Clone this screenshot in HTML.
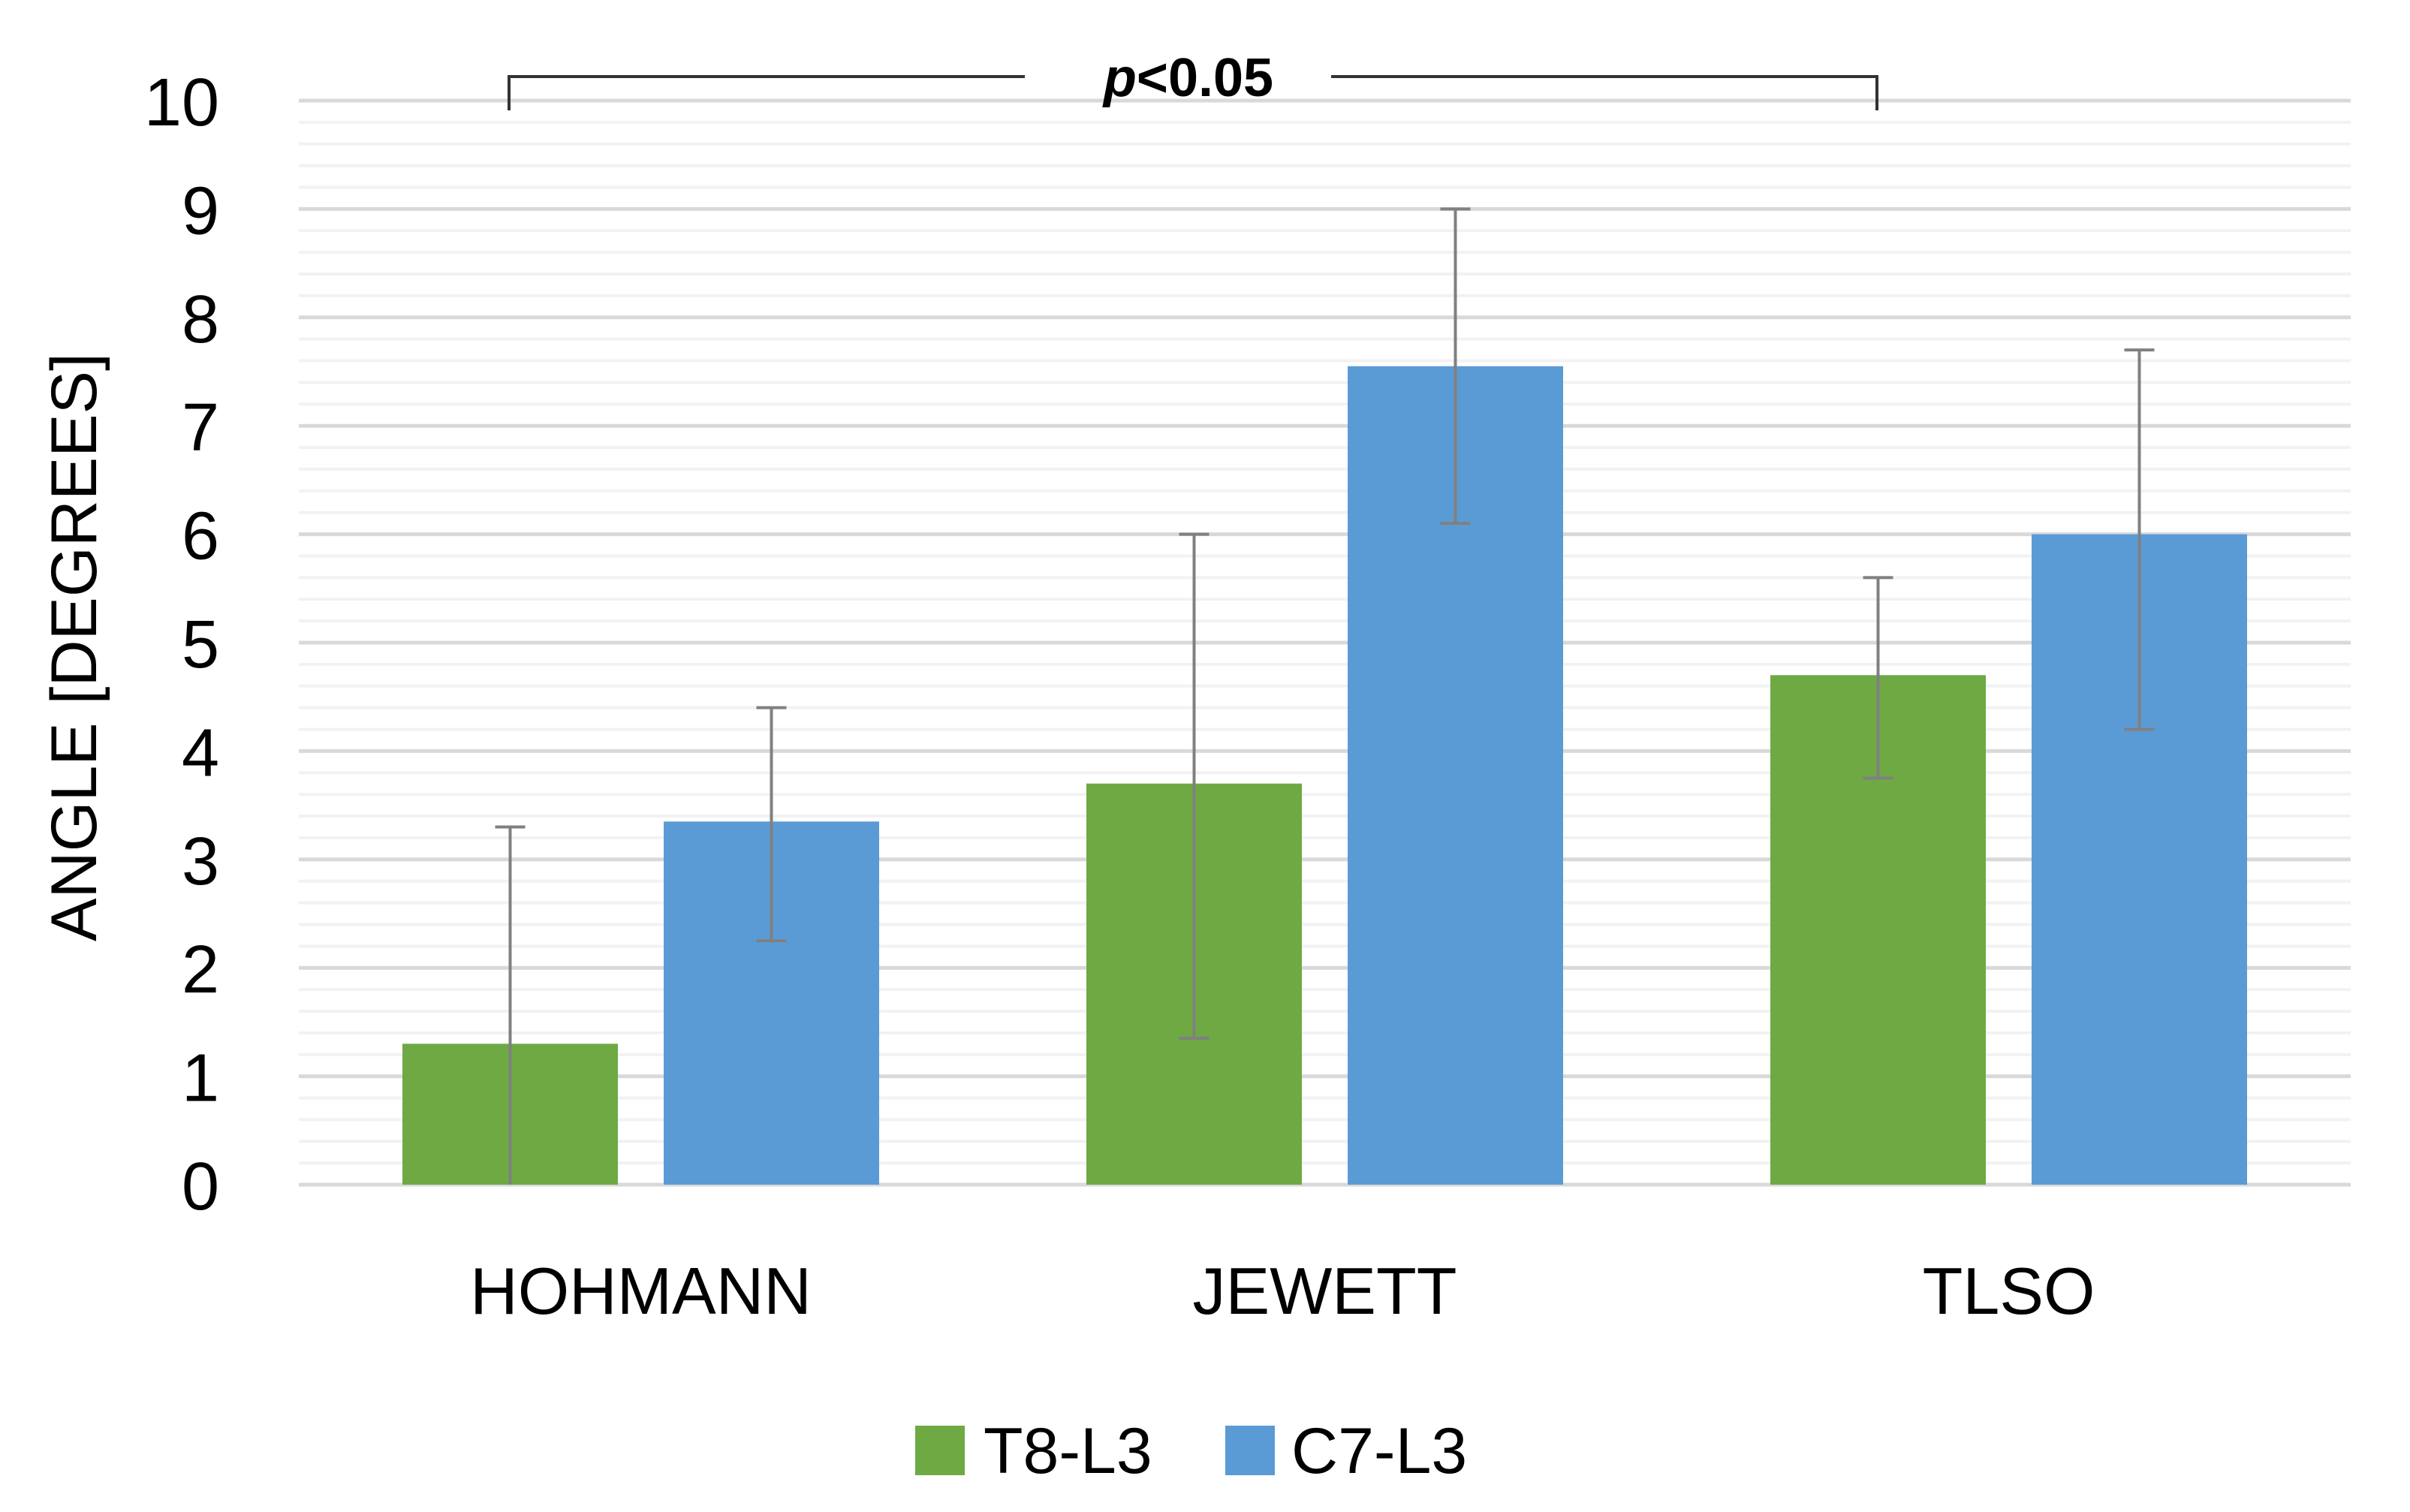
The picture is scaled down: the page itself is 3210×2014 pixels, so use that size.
<!DOCTYPE html>
<html><head><meta charset="utf-8"><style>
html,body{margin:0;padding:0;background:#fff;}
svg{display:block;font-family:"Liberation Sans",sans-serif;}
</style></head><body>
<svg id="chart" width="3210" height="2014" viewBox="0 0 3210 2014" xmlns="http://www.w3.org/2000/svg">
<g id="grid"></g>
<g id="bars"></g>
<g id="errs"></g>
<g id="yticks"></g>
<g id="xcats"></g>
<text transform="translate(128,862) rotate(-90)" text-anchor="middle" font-size="86" fill="#000">ANGLE [DEGREES]</text>
<g stroke="#333" stroke-width="4" fill="none">
<path d="M678,147 V102 H1365"/><path d="M1773,102 H2500 V147"/>
</g>
<text x="1583" y="128" text-anchor="middle" font-size="72" font-weight="bold" fill="#000"><tspan font-style="italic">p</tspan>&lt;0.05</text>
<g>
<rect x="1219" y="1899" width="66" height="66" fill="#6ea944"/>
<text x="1310" y="1962" font-size="86" fill="#000">T8-L3</text>
<rect x="1632" y="1899" width="66" height="66" fill="#5b9bd5"/>
<text x="1720" y="1962" font-size="86" fill="#000">C7-L3</text>
</g>
</svg>
<script>
const categories = ["HOHMANN","JEWETT","TLSO"];
const t8Values = [1.3, 3.7, 4.7];
const t8Lower = [0.0, 1.35, 3.75];
const t8Upper = [3.3, 6.0, 5.6];
const c7Values = [3.35, 7.55, 6.0];
const c7Lower = [2.25, 6.1, 4.2];
const c7Upper = [4.4, 9.0, 7.7];
const yTicks = ["0","1","2","3","4","5","6","7","8","9","10"];

const NS = "http://www.w3.org/2000/svg";
const X0 = 398, X1 = 3131, Y0 = 1578, PU = 144.4;
const yS = v => Y0 - v * PU;
const catW = (X1 - X0) / categories.length;
const xC = i => X0 + catW * (i + 0.5);
function mk(tag, attrs, parent) {
  const e = document.createElementNS(NS, tag);
  for (const k in attrs) e.setAttribute(k, attrs[k]);
  parent.appendChild(e);
  return e;
}
const grid = document.getElementById('grid');
for (let k = 0; k <= 50; k++) {
  const v = k / 5;
  const major = k % 5 === 0;
  const l = mk('line', {x1: X0, x2: X1, y1: yS(v), y2: yS(v), stroke: major ? '#d9d9d9' : '#f2f2f2', 'stroke-width': major ? 5 : 4}, grid);
  
  
}
const yt = document.getElementById('yticks');
yTicks.forEach((t, i) => {
  const e = mk('text', {x: 292, y: yS(+t) + 33, 'text-anchor': 'end', 'font-size': 90, fill: '#000'}, yt);
  e.textContent = t;
  
  
});
const bars = document.getElementById('bars');
const errs = document.getElementById('errs');
const BW = 287, OFF = 174;
function drawErr(x, lo, hi, name) {
  const g = mk('g', {stroke: '#808080', 'stroke-width': 4}, errs);
  
  
  mk('line', {x1: x, x2: x, y1: yS(lo), y2: yS(hi)}, g);
  mk('line', {x1: x - 20, x2: x + 20, y1: yS(hi), y2: yS(hi)}, g);
  if (lo > 0) mk('line', {x1: x - 20, x2: x + 20, y1: yS(lo), y2: yS(lo)}, g);
}
const xl = document.getElementById('xcats');
categories.forEach((c, i) => {
  const gx = xC(i) - OFF, bx = xC(i) + OFF;
  const r1 = mk('rect', {x: gx - BW / 2, y: yS(t8Values[i]), width: BW, height: Y0 - yS(t8Values[i]), fill: '#6ea944'}, bars);
  
  
  const r2 = mk('rect', {x: bx - BW / 2, y: yS(c7Values[i]), width: BW, height: Y0 - yS(c7Values[i]), fill: '#5b9bd5'}, bars);
  
  
  drawErr(gx, t8Lower[i], t8Upper[i], 'error-bar-t8-l3-' + c.toLowerCase());
  drawErr(bx, c7Lower[i], c7Upper[i], 'error-bar-c7-l3-' + c.toLowerCase());
  const t = mk('text', {x: xC(i), y: 1750, 'text-anchor': 'middle', 'font-size': 88, fill: '#000'}, xl);
  t.textContent = c;
  
  
});
</script>
</body></html>
